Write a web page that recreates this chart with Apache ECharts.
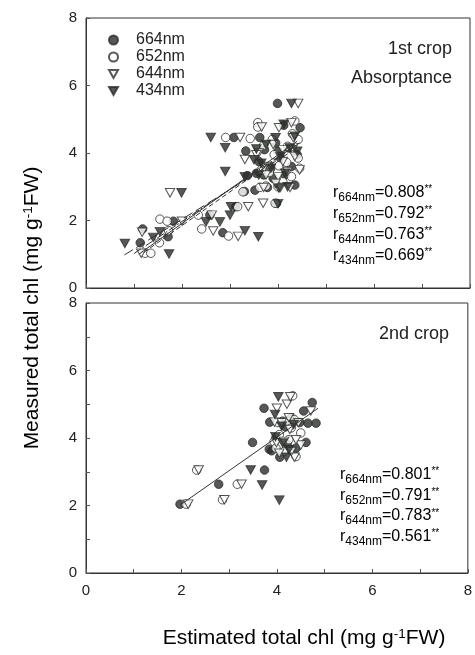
<!DOCTYPE html>
<html>
<head>
<meta charset="utf-8">
<script src="https://cdn.jsdelivr.net/npm/echarts/dist/echarts.min.js"></script>
<style>
html, body { margin: 0; padding: 0; background: #fff; }
#chart { width: 475px; height: 655px; }
</style>
</head>
<body>
<div id="chart"></div>
<script>
// axis ticks
var xTicks = [0, 8, 1]
var yTicks = [0, 8]

// 1st crop (absorptance) - [estimated, measured]
var top664 = [[1.13,1.34],[1.18,1.75],[1.71,1.52],[1.82,1.98],[2.58,2.16],[2.85,1.64],[3.08,4.46],[3.62,4.46],[3.33,4.06],[3.36,3.33],[3.52,2.90],[3.30,2.86],[3.78,2.98],[3.12,2.41],[3.97,2.51],[3.99,5.47],[4.46,4.75],[4.12,4.82],[3.72,4.10],[3.95,4.30],[4.22,4.15],[3.60,3.75],[3.85,3.55],[4.05,3.85],[4.28,3.60],[4.40,3.95],[3.55,3.40],[3.90,3.25],[4.15,3.35],[4.35,3.05],[3.70,3.35],[4.00,4.05]]
var top652 = [[1.23,1.03],[1.35,1.03],[1.53,1.34],[1.54,2.04],[1.69,1.98],[1.72,1.70],[2.34,2.16],[2.41,1.75],[2.97,1.54],[2.91,4.46],[3.42,4.43],[3.27,2.85],[3.62,2.98],[3.16,2.41],[3.94,2.51],[3.58,4.90],[3.58,4.77],[4.30,4.57],[4.45,3.55],[4.42,3.85],[3.70,4.22],[3.92,3.95],[4.18,3.72],[3.82,3.42],[4.02,3.62],[4.42,4.40],[4.28,3.30],[3.75,3.02],[4.20,4.20],[3.65,3.50],[3.88,4.40],[4.10,3.15],[4.35,4.95],[4.00,3.00]]
var top644 = [[1.15,1.03],[1.17,1.65],[2.00,1.98],[1.75,2.82],[2.65,1.69],[3.17,1.53],[2.62,2.16],[3.21,4.46],[3.31,3.81],[3.38,2.41],[3.69,2.51],[3.70,2.98],[4.05,2.98],[3.66,4.77],[4.02,4.75],[4.42,5.47],[4.32,4.45],[4.45,3.50],[3.80,3.60],[4.10,4.10],[4.00,3.30],[3.60,4.00],[4.30,4.10],[3.90,4.25],[4.20,3.45],[3.75,3.35],[4.35,3.90],[3.55,3.95],[4.10,3.75],[3.95,3.10],[4.28,4.90],[4.25,2.98]]
var top434 = [[0.81,1.32],[1.73,1.01],[1.54,1.67],[1.99,2.82],[2.50,1.96],[2.79,1.96],[3.00,2.16],[3.02,2.41],[3.31,1.70],[3.59,1.52],[2.60,4.46],[2.90,4.16],[2.90,3.45],[3.31,3.30],[4.00,2.50],[4.02,2.96],[4.28,5.47],[4.12,4.85],[3.55,4.12],[3.75,4.25],[4.05,3.90],[4.25,4.15],[3.65,3.70],[3.85,3.55],[4.15,3.40],[3.95,4.45],[4.35,4.50],[3.60,3.35],[4.20,3.00],[1.40,1.50],[4.40,4.05],[3.50,3.80]]

// 2nd crop
var bot664 = [[1.97,2.04],[2.78,2.63],[3.74,3.05],[3.49,3.87],[3.73,4.88],[4.74,5.05],[4.56,4.80],[4.65,4.44],[4.82,4.44],[4.61,3.87],[3.84,3.67],[3.89,3.62],[4.06,3.43],[3.85,4.47],[4.18,4.33],[4.48,4.46],[4.30,4.60],[4.22,3.82],[4.40,3.70],[3.98,4.02],[4.12,4.50]]
var bot652 = [[2.10,2.04],[2.32,3.05],[2.86,2.17],[3.17,2.63],[4.33,5.25],[4.22,4.50],[4.36,4.55],[3.94,3.89],[4.25,3.95],[4.15,3.60],[4.40,3.45],[4.05,4.10],[4.50,4.15],[4.02,4.46],[3.98,3.70],[4.30,4.30]]
var bot644 = [[2.14,2.04],[2.36,3.05],[2.90,2.17],[3.26,2.63],[4.21,5.00],[4.28,5.22],[4.00,4.88],[4.71,4.80],[4.50,3.79],[4.37,3.43],[3.95,4.47],[4.10,4.45],[4.27,4.25],[3.99,3.86],[4.30,3.60],[4.15,3.90],[4.45,4.45],[4.05,3.55],[4.25,4.60],[4.40,3.95]]
var bot434 = [[3.45,3.05],[3.69,2.61],[4.05,2.16],[4.03,5.22],[4.20,3.43],[3.96,4.70],[3.97,4.04],[4.25,3.65],[4.10,4.35],[4.35,4.40],[4.12,3.85]]

// regression lines (end points)
var fitTop664 = [[1.10,1.00],[4.40,4.35]]
var fitTop652 = [[1.20,1.05],[4.40,4.25]]
var fitTop644 = [[1.00,1.02],[4.45,4.30]]
var fitTop434 = [[0.80,0.98],[4.40,4.15]]
var fitBot = [[1.98,2.02],[4.86,4.88]]

var names = ['664nm', '652nm', '644nm', '434nm']
var rTop = ['0.808', '0.792', '0.763', '0.669']
var rBot = ['0.801', '0.791', '0.783', '0.561']

var FONT = '"Liberation Sans", Arial, sans-serif'
var INK = '#2b2e2b'
var downTri = 'path://M0,0L10,0L5,9Z'

function markerStyle(name) {
    if (name == '664nm') return { symbol: 'circle', symbolSize: 8.5, itemStyle: { color: INK, borderColor: INK, borderWidth: 1 } }
    if (name == '652nm') return { symbol: 'circle', symbolSize: 8.5, itemStyle: { color: '#fff', borderColor: INK, borderWidth: 1 } }
    if (name == '644nm') return { symbol: downTri, symbolSize: [9.5, 8.5], itemStyle: { color: '#fff', borderColor: INK, borderWidth: 1 } }
    return { symbol: downTri, symbolSize: [9.5, 8.5], itemStyle: { color: INK, borderColor: INK, borderWidth: 1 } }
}

function pts(name, data, gi) {
    var m = markerStyle(name)
    return {
        name: name, type: 'scatter', xAxisIndex: gi, yAxisIndex: gi,
        symbol: m.symbol, symbolSize: m.symbolSize, itemStyle: m.itemStyle,
        data: data, z: 3
    }
}

function fit(data, gi, dash) {
    return {
        name: 'fit', type: 'line', xAxisIndex: gi, yAxisIndex: gi,
        showSymbol: false, symbol: 'none', z: 4,
        lineStyle: { color: '#333', width: 1, type: dash },
        data: data
    }
}

function xAx(gi, labels) {
    return {
        gridIndex: gi, type: 'value', min: xTicks[0], max: xTicks[1], interval: xTicks[2],
        axisLine: { lineStyle: { color: '#333' } },
        axisTick: { inside: true, length: 4, lineStyle: { color: '#555' } },
        axisLabel: { show: labels, interval: 1, margin: 10, color: '#222', fontSize: 15, fontFamily: FONT,
            formatter: function (v) { return v % 2 === 0 ? String(v) : '' } },
        splitLine: { show: false }
    }
}

function yAx(gi, step) {
    return {
        gridIndex: gi, type: 'value', min: yTicks[0], max: yTicks[1], interval: step,
        axisLine: { lineStyle: { color: '#333' } },
        axisTick: { inside: true, length: 4, lineStyle: { color: '#555' } },
        axisLabel: { margin: 9, color: '#222', fontSize: 15, fontFamily: FONT,
            formatter: function (v) { return v % 2 === 0 ? String(v) : '' } },
        splitLine: { show: false }
    }
}

var rich = {
    m: { fontSize: 16, lineHeight: 16, verticalAlign: 'top', fontFamily: FONT, color: '#222' },
    s: { fontSize: 12, lineHeight: 12, padding: [7, 0, 0, 0], verticalAlign: 'top', fontFamily: FONT, color: '#222' },
    p: { fontSize: 10, lineHeight: 10, verticalAlign: 'top', fontFamily: FONT, color: '#222' }
}

function rLabel(name, val, x, y) {
    return {
        type: 'text', x: x, y: y + 1.5,
        style: { text: '{m|r}{s|' + name + '}{m|=' + val + '}{p|**}', rich: rich, align: 'left', verticalAlign: 'middle' }
    }
}

function plainText(t, x, y, size, align) {
    return { type: 'text', x: x, y: y, style: { text: t, fill: '#222', font: size + 'px ' + FONT, align: align, verticalAlign: 'middle' } }
}

var titleRich = {
    m: { fontSize: 21, lineHeight: 21, verticalAlign: 'bottom', fontFamily: FONT, color: '#222' },
    u: { fontSize: 13.5, lineHeight: 13.5, verticalAlign: 'top', fontFamily: FONT, color: '#222' }
}

var graphics = [
    plainText('1st crop', 452, 49, 18, 'right'),
    plainText('Absorptance', 452, 78, 18, 'right'),
    plainText('2nd crop', 449, 334, 18, 'right'),
    { type: 'text', x: 304, y: 638,
      style: { text: '{m|Estimated total chl (mg g}{u|-1}{m|FW)}', rich: titleRich, align: 'center', verticalAlign: 'middle' } },
    { type: 'text', x: 32, y: 308, rotation: Math.PI / 2,
      style: { text: '{m|Measured total chl (mg g}{u|-1}{m|FW)}', rich: titleRich, align: 'center', verticalAlign: 'middle' } }
]
names.forEach(function (n, i) {
    graphics.push(rLabel(n, rTop[i], 333, 191 + i * 21))
    graphics.push(rLabel(n, rBot[i], 340, 473 + i * 20.7))
})

var chart = echarts.init(document.getElementById('chart'))
chart.setOption({
    animation: false,
    backgroundColor: '#fff',
    grid: [
        { left: 86, top: 18, width: 384, height: 270, show: true, borderColor: '#333', borderWidth: 1 },
        { left: 86, top: 303, width: 384, height: 270, show: true, borderColor: '#333', borderWidth: 1 }
    ],
    xAxis: [xAx(0, false), xAx(1, true)],
    yAxis: [yAx(0, 2), yAx(1, 1)],
    legend: {
        data: names, orient: 'vertical', left: 103, top: 27,
        itemWidth: 9, itemHeight: 9, itemGap: 1,
        textStyle: { fontSize: 16, fontFamily: FONT, color: '#222', padding: [0, 0, 0, 13], lineHeight: 15.5 }
    },
    series: [
        pts('664nm', top664, 0), pts('652nm', top652, 0), pts('644nm', top644, 0), pts('434nm', top434, 0),
        pts('664nm', bot664, 1), pts('652nm', bot652, 1), pts('644nm', bot644, 1), pts('434nm', bot434, 1),
        fit(fitTop664, 0, 'solid'), fit(fitTop652, 0, [5, 3]), fit(fitTop644, 0, [8, 2, 2, 2]), fit(fitTop434, 0, [10, 4]),
        fit(fitBot, 1, 'solid')
    ],
    graphic: graphics
})
</script>
</body>
</html>
